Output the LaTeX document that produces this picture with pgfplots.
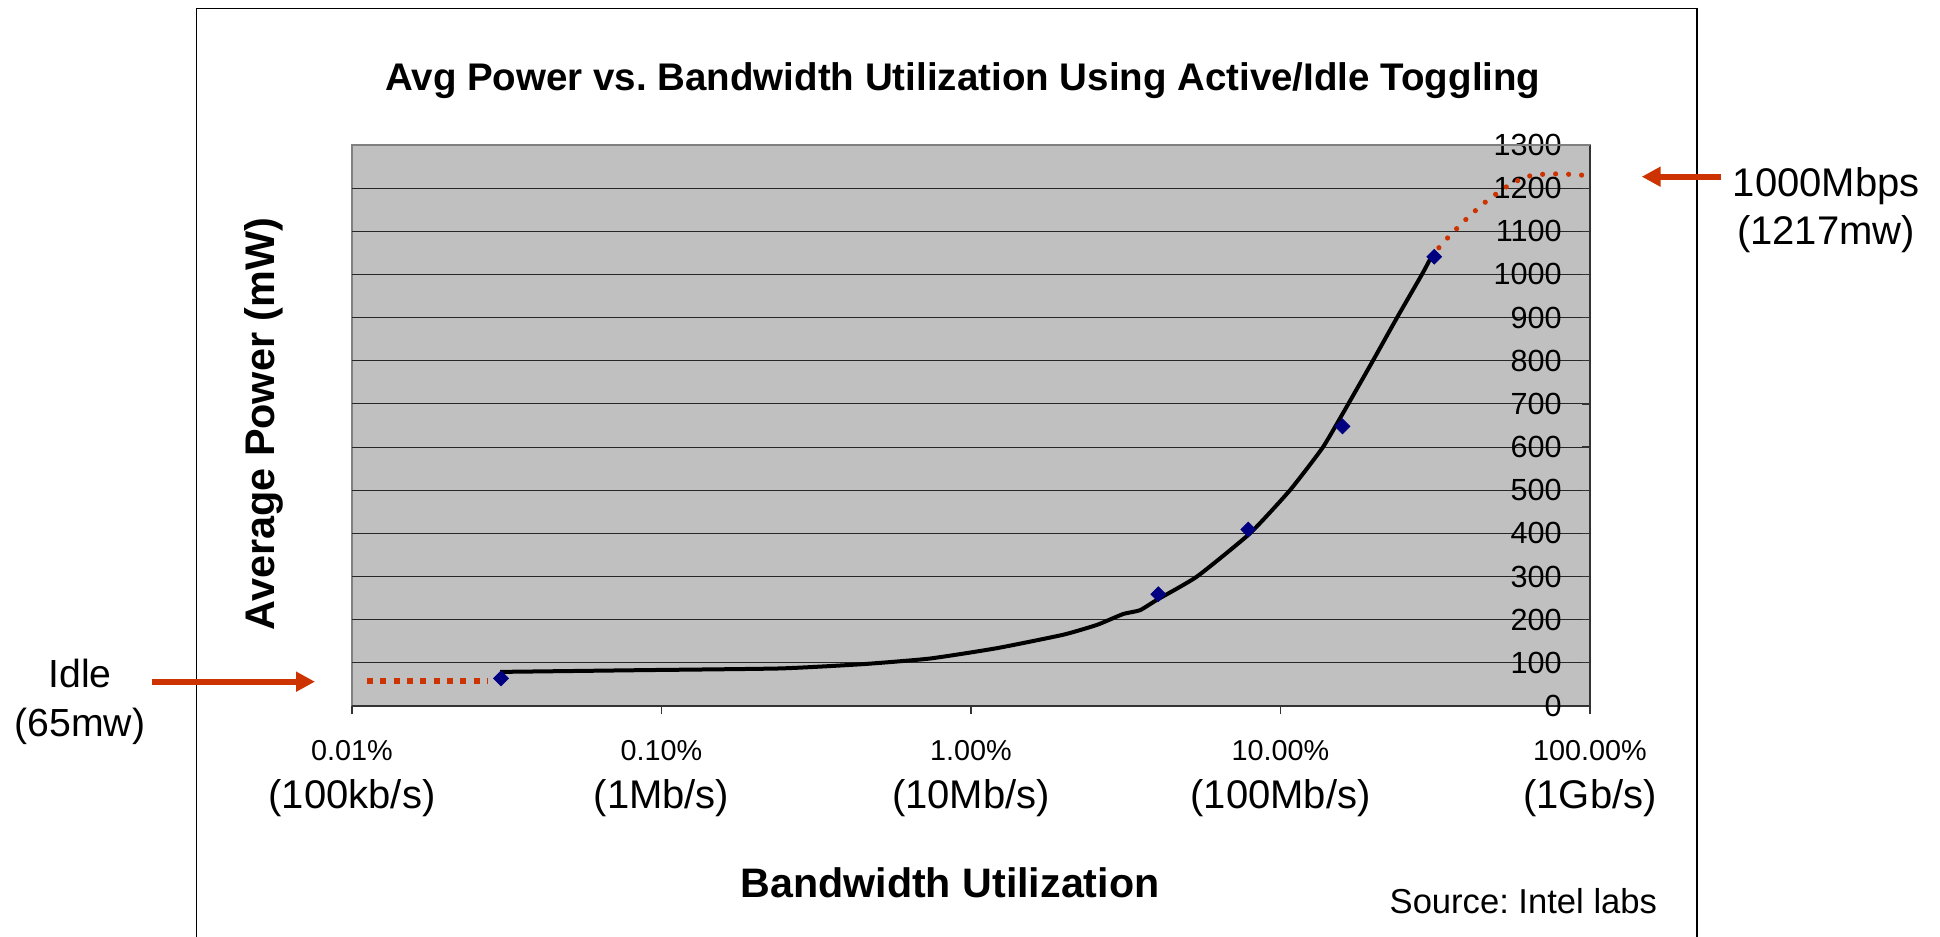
\documentclass[border=0pt]{standalone}
\usepackage{fontspec}
\setmainfont{Liberation Sans}
\usepackage{pgfplots}
\pgfplotsset{compat=1.18}
\usetikzlibrary{arrows.meta}
\definecolor{plotbg}{RGB}{192,192,192}
\definecolor{annot}{RGB}{204,51,0}
\definecolor{navy}{RGB}{0,0,128}
\frenchspacing
\begin{document}
\begin{tikzpicture}
\useasboundingbox (0,0) rectangle (970pt,468.5pt);
\draw[black, line width=0.6pt] (98.2pt,-2pt) -- (98.2pt,464.15pt) -- (848.5pt,464.15pt) -- (848.5pt,-2pt);
\begin{axis}[
  at={(176pt,115.5pt)}, anchor=south west,
  scale only axis, width=619pt, height=280.5pt,
  xmode=log, xmin=0.01, xmax=100, ymin=0, ymax=1300,
  axis background/.style={fill=plotbg, draw=gray, line width=1pt},
  axis x line*=bottom, axis y line*=right,
  axis line style={-, black!80, line width=0.7pt},
  xtick={0.01,0.1,1,10,100},
  xticklabels={
    {{\fontsize{14.4}{24.2}\selectfont 0.01\%}\\(100kb/s)},
    {{\fontsize{14.4}{24.2}\selectfont 0.10\%}\\(1Mb/s)},
    {{\fontsize{14.4}{24.2}\selectfont 1.00\%}\\(10Mb/s)},
    {{\fontsize{14.4}{24.2}\selectfont 10.00\%}\\(100Mb/s)},
    {{\fontsize{14.4}{24.2}\selectfont 100.00\%}\\(1Gb/s)}},
  xminorticks=false,
  ytick={0,100,...,1300},
  ymajorgrids, major grid style={black!85, line width=0.5pt},
  tick align=inside, major tick length=4.25pt,
  tick style={black!80, line width=0.6pt},
  xtick style={yshift=-4.25pt},
  xticklabel style={anchor=north, inner sep=0pt, yshift=-17pt, align=center, font=\fontsize{20}{24.2}\selectfont},
  yticklabel style={anchor=east, inner sep=0pt, xshift=-14pt, font=\fontsize{15.3}{18}\selectfont},
  /pgf/number format/assume math mode=true,
  /pgf/number format/1000 sep={},
  clip=false,
]
\addplot[annot, line width=3pt, line cap=butt, dash pattern=on 3pt off 3.67pt] coordinates {(0.01118,57) (0.0275,57)};
\addplot[black, line width=2pt, smooth, tension=0.3, mark=none] coordinates {
(0.0301,79) (0.0852,83) (0.2415,87) (0.448,97) (0.737,110) (1.213,134) (1.983,165) (2.554,188) (3.098,213) (3.517,222) (3.99,246) (5.373,300) (7.97,400) (10.73,500) (13.72,600) (16.56,700) (19.89,800) (23.8,900) (28.64,1000) (30.41,1035)};
\addplot[annot, line width=2.6pt, line cap=round, dash pattern=on 0pt off 6.5pt, smooth, mark=none] coordinates {
(32.5,1062) (34.4,1082) (39.4,1125) (45.6,1166) (53.4,1202) (58.2,1217) (63.7,1228) (70.1,1232) (77.4,1233) (86,1232) (95,1230)};
\addplot[only marks, mark=square*, mark size=2.6pt, mark options={rotate=45, fill=navy, draw=navy}] coordinates {
(0.0303,64) (4.03,259) (7.87,409) (15.86,648) (31.4,1041)};
\draw[gray, line width=1pt] (rel axis cs:0,1) -- (rel axis cs:1,1);
\end{axis}
\node[anchor=base, font=\fontsize{19.25}{23}\selectfont\bfseries] at (481.4pt,423.15pt) {Avg Power vs. Bandwidth Utilization Using Active/Idle Toggling};
\node[anchor=base, rotate=90, font=\fontsize{20.7}{24}\selectfont\bfseries] at (137.3pt,256.5pt) {Average Power (mW)};
\node[anchor=base, font=\fontsize{20.6}{24}\selectfont\bfseries] at (475pt,19.55pt) {Bandwidth Utilization};
\node[anchor=base east, inner sep=0pt, font=\fontsize{17.3}{20}\selectfont] at (828.7pt,11.85pt) {Source: Intel labs};
\node[anchor=base, font=\fontsize{19.6}{23}\selectfont] at (40.1pt,124.85pt) {Idle};
\node[anchor=base, font=\fontsize{19.6}{23}\selectfont] at (40pt,100.15pt) {(65mw)};
\node[anchor=base, font=\fontsize{20}{23}\selectfont] at (913.15pt,370.15pt) {1000Mbps};
\node[anchor=base, font=\fontsize{20}{23}\selectfont] at (913pt,346pt) {(1217mw)};
\draw[annot, line width=3pt, -{Triangle[length=9.5pt,width=9.5pt]}] (75.85pt,127.65pt) -- (157.5pt,127.65pt);
\draw[annot, line width=3pt, -{Triangle[length=9.5pt,width=9.5pt]}] (860.35pt,380.15pt) -- (820.85pt,380.15pt);
\end{tikzpicture}
\end{document}
